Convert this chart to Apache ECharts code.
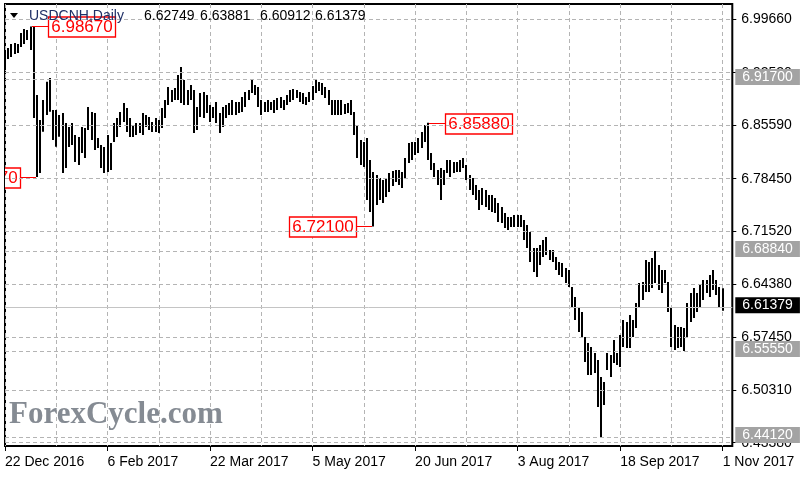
<!DOCTYPE html>
<html><head><meta charset="utf-8">
<script src="https://cdn.jsdelivr.net/npm/echarts@6/dist/echarts.min.js"></script>
<style>html,body{margin:0;padding:0;background:#fff}#c{width:800px;height:480px}</style>
</head><body><div id="c"></div>
<script>
// Daily highs / lows of USDCNH, 22 Dec 2016 .. 1 Nov 2017
const highs = [
6.9514,6.9581,6.9634,6.9647,6.9634,6.9780,6.9833,6.9820,6.9867,6.9860,
6.8956,6.8624,6.8890,6.9133,6.9182,6.8757,6.8757,6.8691,6.8717,6.8584,
6.8531,6.8584,6.8425,6.8398,6.8531,6.8518,6.8797,6.8731,6.8717,6.8385,
6.8292,6.8266,6.8425,6.8319,6.8584,6.8651,6.8731,6.8850,6.8784,6.8651,
6.8558,6.8584,6.8584,6.8717,6.8691,6.8664,6.8598,6.8651,6.8624,6.8784,
6.8890,6.9063,6.9023,6.9049,6.9222,6.9328,6.9156,6.9023,6.9089,6.9023,
6.8797,6.8983,6.8996,6.8956,6.8824,6.8797,6.8863,6.8717,6.8797,6.8824,
6.8850,6.8890,6.8863,6.8863,6.8930,6.8996,6.9023,6.9156,6.9089,6.9063,
6.8890,6.8863,6.8890,6.8863,6.8890,6.8917,6.8930,6.8890,6.8956,6.9023,
6.9036,6.9023,6.8996,6.8983,6.8930,6.8996,6.9076,6.9156,6.9129,6.9116,
6.9063,6.9023,6.8890,6.8890,6.8890,6.8890,6.8837,6.8850,6.8890,6.8731,
6.8558,6.8359,6.8332,6.8385,6.8093,6.7934,6.7894,6.7854,6.7827,6.7854,
6.7920,6.7947,6.7960,6.7960,6.7934,6.8120,6.8319,6.8332,6.8332,6.8385,
6.8465,6.8558,6.8588,6.8186,6.8053,6.7960,6.7987,6.7960,6.8093,6.8093,
6.8066,6.8066,6.8093,6.8120,6.8027,6.7894,6.7854,6.7761,6.7694,6.7721,
6.7694,6.7628,6.7628,6.7588,6.7522,6.7469,6.7389,6.7336,6.7336,6.7362,
6.7362,6.7362,6.7296,6.7229,6.7136,6.6924,6.6924,6.6964,6.7030,6.7070,
6.6897,6.6897,6.6804,6.6738,6.6725,6.6658,6.6632,6.6406,6.6273,6.6140,
6.6074,6.5742,6.5662,6.5609,6.5529,6.5436,6.5210,6.5144,6.5529,6.5503,
6.5702,6.5529,6.5768,6.5968,6.5941,6.6034,6.5968,6.6193,6.6459,6.6472,
6.6765,6.6738,6.6791,6.6884,6.6698,6.6632,6.6632,6.6472,6.6140,6.5901,
6.5875,6.5875,6.5861,6.6193,6.6326,6.6393,6.6326,6.6432,6.6499,6.6499,
6.6565,6.6632,6.6499,6.6406,6.6388
];
const lows = [
6.9289,6.9435,6.9461,6.9501,6.9514,6.9594,6.9634,6.9687,6.9554,6.8651,
6.7867,6.7920,6.8469,6.8691,6.8735,6.8359,6.8270,6.8403,6.7920,6.7987,
6.8266,6.8292,6.8066,6.8027,6.8186,6.8120,6.8491,6.8359,6.8226,6.8252,
6.7987,6.7920,6.7934,6.7960,6.8332,6.8398,6.8531,6.8598,6.8465,6.8398,
6.8398,6.8425,6.8452,6.8425,6.8531,6.8491,6.8465,6.8465,6.8452,6.8518,
6.8651,6.8824,6.8863,6.8890,6.8890,6.8850,6.8824,6.8824,6.8890,6.8452,
6.8491,6.8664,6.8651,6.8717,6.8598,6.8651,6.8584,6.8452,6.8531,6.8651,
6.8691,6.8691,6.8691,6.8717,6.8731,6.8797,6.8890,6.8983,6.8956,6.8797,
6.8691,6.8731,6.8731,6.8757,6.8717,6.8757,6.8784,6.8757,6.8824,6.8863,
6.8890,6.8917,6.8863,6.8837,6.8824,6.8863,6.8890,6.8983,6.9009,6.8956,
6.8917,6.8824,6.8691,6.8691,6.8691,6.8691,6.8704,6.8717,6.8691,6.8425,
6.8120,6.8027,6.8000,6.7562,6.7402,6.7210,6.7495,6.7562,6.7522,6.7601,
6.7668,6.7748,6.7801,6.7761,6.7721,6.7854,6.8053,6.8093,6.8159,6.8186,
6.8252,6.8332,6.8093,6.7960,6.7867,6.7761,6.7562,6.7761,6.7920,6.7867,
6.7920,6.7934,6.7934,6.7987,6.7827,6.7694,6.7628,6.7562,6.7429,6.7495,
6.7469,6.7429,6.7402,6.7389,6.7269,6.7256,6.7190,6.7163,6.7203,6.7203,
6.7203,6.7203,6.7030,6.6924,6.6738,6.6605,6.6539,6.6698,6.6804,6.6831,
6.6765,6.6738,6.6632,6.6565,6.6539,6.6459,6.6406,6.6140,6.5968,6.5808,
6.5742,6.5410,6.5237,6.5237,6.5263,6.4812,6.4412,6.4838,6.5303,6.5210,
6.5396,6.5370,6.5343,6.5609,6.5596,6.5596,6.5742,6.5861,6.6140,6.6233,
6.6339,6.6339,6.6393,6.6459,6.6366,6.6326,6.6459,6.6074,6.5609,6.5569,
6.5596,6.5609,6.5555,6.5742,6.5941,6.5994,6.6074,6.6127,6.6233,6.6326,
6.6273,6.6366,6.6300,6.6140,6.6091
];
const xTickLabels = ['22 Dec 2016','6 Feb 2017','22 Mar 2017','5 May 2017','20 Jun 2017','3 Aug 2017','18 Sep 2017','1 Nov 2017'];
const yTickValues = [6.4338, 6.5031, 6.5745, 6.6438, 6.7152, 6.7845, 6.8559, 6.9252, 6.9966];
const levelValues = [6.9170, 6.6884, 6.5555, 6.4412];
const lastOHLC = [6.62749, 6.63881, 6.60912, 6.61379];
const noteIndex = [8, 10, 115, 132];
const noteValue = [6.9867, 6.7867, 6.7210, 6.8588];
const noteSide = ['right', 'left', 'left', 'right'];
const symbolText = 'USDCNH,Daily';
const watermarkText = 'ForexCycle.com';

// trading-day categories (weekdays), with a few empty slots at the right edge
const N = 228;
const categories = [];
let d = new Date(Date.UTC(2016, 11, 22));
while (categories.length < N) {
  const wd = d.getUTCDay();
  if (wd !== 0 && wd !== 6) categories.push(d.toISOString().slice(0, 10));
  d = new Date(d.getTime() + 86400000);
}

const FONT = 'Liberation Sans';
const GRID = '#b4b4b4';
const barData = highs.map((h, i) => [i, h, lows[i]]);
const noteData = noteIndex.map((i, k) => [i, noteValue[k]]);

const chart = echarts.init(document.getElementById('c'), null, {renderer: 'canvas'});
chart.setOption({
  animation: false,
  backgroundColor: '#fff',
  grid: {left: 5, top: 4, right: 67.7, bottom: 34, show: true, borderColor: '#000', borderWidth: 2, backgroundColor: 'transparent'},
  xAxis: {
    type: 'category', data: categories, boundaryGap: false,
    axisLine: {show: true, lineStyle: {color: '#000', width: 1}},
    axisTick: {show: true, length: 5, interval: (i) => i % 32 === 0 && i <= 224, lineStyle: {color: '#000', width: 1}},
    axisLabel: {interval: (i) => i % 32 === 0 && i <= 224, formatter: (v, i) => xTickLabels[i / 32] || '',
      align: 'left', margin: 9, color: '#000', fontSize: 14, fontFamily: FONT},
    splitLine: {show: true, interval: (i) => i % 16 === 0, lineStyle: {color: GRID, type: [4, 3], width: 1}}
  },
  yAxis: {
    type: 'value', position: 'right', min: 6.4294, max: 7.0165, scale: true,
    axisLine: {show: true, lineStyle: {color: '#000', width: 1}},
    axisTick: {show: true, length: 4, customValues: yTickValues, lineStyle: {color: '#000'}},
    axisLabel: {customValues: yTickValues, formatter: (v) => v.toFixed(5), margin: 9, color: '#000', fontSize: 14, fontFamily: FONT},
    splitLine: {show: false}
  },
  series: [
    {
      type: 'line', data: [], z: 1, silent: true,
      markLine: {symbol: 'none', silent: true, animation: false, precision: 5, label: {show: false},
        lineStyle: {color: GRID, type: [4, 3], width: 1},
        data: yTickValues.map(v => ({yAxis: v}))}
    },
    {
      type: 'line', data: [], z: 2, silent: true,
      markLine: {symbol: 'none', silent: true, animation: false, precision: 5,
        lineStyle: {color: GRID, type: [4, 3], width: 1},
        label: {show: true, position: 'end', distance: 3, formatter: (p) => Number(p.value).toFixed(5),
          backgroundColor: '#a3a3a3', color: '#fff', fontSize: 14, fontFamily: FONT,
          padding: [1, 7, 1, 7], lineHeight: 14, offset: [0, -2]},
        data: levelValues.map(v => ({yAxis: v})).concat([{
          yAxis: lastOHLC[3],
          lineStyle: {type: 'solid', color: '#c4c4c4', width: 1},
          label: {backgroundColor: '#000', color: '#fff'}
        }])}
    },
    {
      type: 'custom', z: 3, clip: true, silent: true,
      data: barData,
      encode: {x: 0, y: [1, 2]},
      renderItem: (params, api) => {
        const top = api.coord([api.value(0), api.value(1)]);
        const bot = api.coord([api.value(0), api.value(2)]);
        const x = Math.round(top[0]) - 1;
        return {type: 'rect', shape: {x: x, y: top[1], width: 2, height: Math.max(1, bot[1] - top[1])}, style: {fill: '#000'}};
      }
    },
    {
      type: 'custom', z: 4, clip: true, silent: true,
      data: noteData,
      encode: {x: 0, y: 1},
      renderItem: (params, api) => {
        const k = params.dataIndex;
        const p = api.coord([api.value(0), api.value(1)]);
        const bw = 67, bh = 20, gap = 16;
        const px = Math.round(p[0]) + 1, py = Math.round(p[1]) + 0.5;
        const right = noteSide[k] === 'right';
        const bx = right ? px + gap : px - 2 - gap - bw;
        const lx2 = right ? bx : bx + bw;
        return {type: 'group', children: [
          {type: 'line', shape: {x1: right ? px : px - 2, y1: py, x2: lx2, y2: py}, style: {stroke: '#ff0000', lineWidth: 1}},
          {type: 'rect', shape: {x: Math.round(bx) + 0.5, y: Math.round(py - bh / 2), width: bw, height: bh}, style: {fill: '#fff', stroke: '#ff0000', lineWidth: 1.3}},
          {type: 'text', style: {text: api.value(1).toFixed(5), x: bx + bw / 2 + 0.5, y: py + 0.5,
            align: 'center', verticalAlign: 'middle', textAlign: 'center', textVerticalAlign: 'middle',
            fill: '#ff0000', fontSize: 17, fontFamily: FONT}}
        ]};
      }
    }
  ],
  graphic: [
    {type: 'polygon', z: 100, shape: {points: [[10, 13], [18, 13], [14, 18]]}, style: {fill: '#000'}},
    {type: 'text', z: 100, x: 29, y: 16.5, style: {text: symbolText, fill: '#1f2f66', fontSize: 14, fontFamily: FONT, verticalAlign: 'middle', textVerticalAlign: 'middle'}},
    {type: 'text', z: 100, x: 144, y: 16.5, style: {text: lastOHLC[0].toFixed(5), fill: '#000', fontSize: 14, fontFamily: FONT, verticalAlign: 'middle', textVerticalAlign: 'middle'}},
    {type: 'text', z: 100, x: 200, y: 16.5, style: {text: lastOHLC[1].toFixed(5), fill: '#000', fontSize: 14, fontFamily: FONT, verticalAlign: 'middle', textVerticalAlign: 'middle'}},
    {type: 'text', z: 100, x: 260, y: 16.5, style: {text: lastOHLC[2].toFixed(5), fill: '#000', fontSize: 14, fontFamily: FONT, verticalAlign: 'middle', textVerticalAlign: 'middle'}},
    {type: 'text', z: 100, x: 315, y: 16.5, style: {text: lastOHLC[3].toFixed(5), fill: '#000', fontSize: 14, fontFamily: FONT, verticalAlign: 'middle', textVerticalAlign: 'middle'}},
    {type: 'text', z: 100, x: 9, y: 415, style: {text: watermarkText, fill: '#858b93', fontSize: 31, fontWeight: 'bold', fontFamily: 'Liberation Serif', verticalAlign: 'middle', textVerticalAlign: 'middle'}}
  ]
});
</script>
</body></html>
